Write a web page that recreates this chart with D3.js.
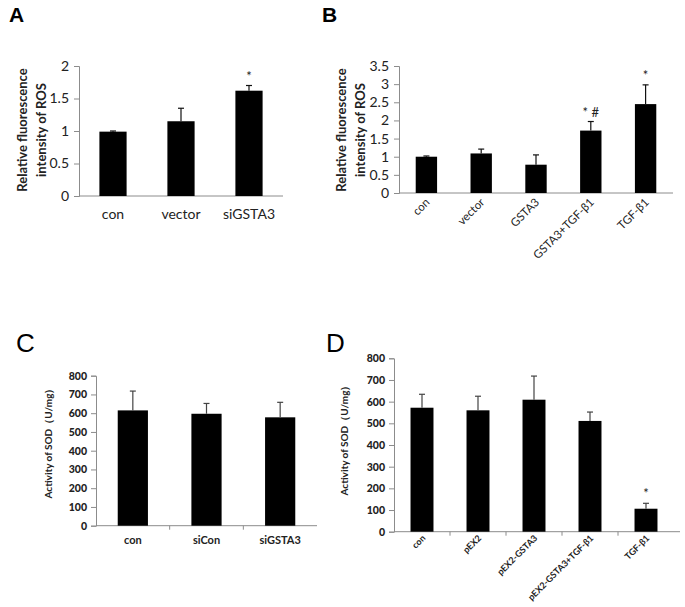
<!DOCTYPE html>
<html><head><meta charset="utf-8">
<script src="https://cdn.jsdelivr.net/npm/d3@7"></script>
<style>body{margin:0;background:#fff}svg{display:block}</style>
</head><body>
<svg id="c" width="685" height="607"></svg>
<script>
// Panel A
const catsA = ["con","vector","siGSTA3"];
const valsA = [0.99, 1.15, 1.62];
const errA  = [0.01, 0.20, 0.08];
const ticksA = [0,0.5,1,1.5,2];
const sigA = ["","","*"];
// Panel B
const catsB = ["con","vector","GSTA3","GSTA3+TGF-β1","TGF-β1"];
const valsB = [1.0, 1.09, 0.78, 1.72, 2.45];
const errB  = [0.02, 0.12, 0.27, 0.25, 0.53];
const ticksB = [0,0.5,1,1.5,2,2.5,3,3.5];
const sigB = ["","","","* #","*"];
// Panel C
const catsC = ["con","siCon","siGSTA3"];
const valsC = [615, 597, 578];
const errC  = [103, 55, 80];
const ticksC = [0,100,200,300,400,500,600,700,800];
// Panel D
const catsD = ["con","pEX2","pEX2-GSTA3","pEX2-GSTA3+TGF-β1","TGF-β1"];
const valsD = [572, 560, 609, 511, 106];
const errD  = [62, 65, 109, 41, 25];
const ticksD = [0,100,200,300,400,500,600,700,800];
const sigD = ["","","","","*"];

const svg = d3.select("#c");
const FONT = "Lato, 'Open Sans', sans-serif";
const AX = "#8c8c8c";

function panel(o){
  const g = svg.append("g");
  const x = d3.scaleBand().domain(o.cats).range(o.xr).padding(0);
  const y = d3.scaleLinear().domain([0, o.ymax]).range(o.yr);
  const bw = x.bandwidth()*o.bar;
  // y axis
  const ya = d3.axisLeft(y).tickValues(o.ticks).tickSize(5).tickPadding(o.tpad).tickFormat(d=>String(d));
  const yg = g.append("g").attr("transform",`translate(${o.xr[0]},0)`).call(ya);
  yg.select(".domain").attr("stroke",AX);
  yg.selectAll(".tick line").attr("stroke",AX);
  yg.selectAll("text").attr("font-family",FONT).attr("font-size",o.tfs).attr("font-weight",o.bold?"900":"normal").attr("fill","#222");
  // x axis
  g.append("line").attr("x1",o.xr[0]).attr("x2",o.xr[1]+o.xext).attr("y1",y(0)).attr("y2",y(0)).attr("stroke",AX);
  if(o.xticks){
    o.cats.forEach((c,i)=>{ if(i>0) g.append("line").attr("x1",x(c)).attr("x2",x(c)).attr("y1",y(0)).attr("y2",y(0)+4).attr("stroke",AX);});
  }
  // bars
  g.selectAll("rect.b").data(o.vals).join("rect")
    .attr("x",(d,i)=>x(o.cats[i])+x.bandwidth()/2-bw/2).attr("width",bw)
    .attr("y",d=>y(d)).attr("height",d=>y(0)-y(d)).attr("fill","#000");
  // error bars
  o.vals.forEach((v,i)=>{
    const cx = x(o.cats[i])+x.bandwidth()/2;
    const top = y(v+o.err[i]);
    g.append("line").attr("x1",cx).attr("x2",cx).attr("y1",y(v)).attr("y2",top).attr("stroke",o.ec).attr("stroke-width",1.2);
    g.append("line").attr("x1",cx-3).attr("x2",cx+3).attr("y1",top).attr("y2",top).attr("stroke",o.ec).attr("stroke-width",1.2);
    if(o.sig && o.sig[i]){
      g.append("text").attr("x",cx).attr("y",top-5).attr("text-anchor","middle")
        .attr("font-family",FONT).attr("font-size",o.sfs).attr("fill","#222").text(o.sig[i]);
    }
  });
  // category labels
  o.cats.forEach((c,i)=>{
    const cx = x(c)+x.bandwidth()/2;
    if(o.rot){
      g.append("text").attr("transform",`translate(${cx+4},${y(0)+o.ly}) rotate(-45)`)
        .attr("text-anchor","end").attr("font-family",FONT).attr("font-size",o.cfs)
        .attr("font-weight",o.bold?"bold":"normal").attr("fill","#222").text(c);
    } else {
      g.append("text").attr("x",cx).attr("y",y(0)+o.ly).attr("text-anchor","middle")
        .attr("font-family",FONT).attr("font-size",o.cfs)
        .attr("font-weight",o.bold?"bold":"normal").attr("fill","#222").text(c);
    }
  });
  // y label
  o.ylab.forEach((t,k)=>{
    g.append("text").attr("transform",`translate(${o.ylx[k]},${o.yly}) rotate(-90)`)
      .attr("text-anchor","middle").attr("font-family",FONT).attr("font-size",o.yfs)
      .attr("font-weight","bold").attr("fill","#222").text(t);
  });
  // panel letter
  svg.append("text").attr("x",o.lx).attr("y",o.lyy).attr("font-family","'Liberation Sans', Arial, sans-serif")
    .attr("font-size",o.lfs).attr("font-weight",o.lbold?"bold":"normal").attr("fill","#000").text(o.letter);
}

panel({cats:catsA, vals:valsA, err:errA, ticks:ticksA, ymax:2, sig:sigA, ec:"#111",
  xr:[79,283], yr:[196,66], bar:0.4, xext:0, xticks:false, tfs:14, tpad:5, bold:false,
  rot:false, cfs:14, ly:23, ylab:["Relative fluorescence","intensity of ROS"], ylx:[27,46], yly:130, yfs:13,
  sfs:13, letter:"A", lx:9, lyy:22, lfs:21, lbold:true});

panel({cats:catsB, vals:valsB, err:errB, ticks:ticksB, ymax:3.5, sig:sigB, ec:"#111",
  xr:[399,673], yr:[193,66], bar:0.39, xext:0, xticks:false, tfs:14, tpad:5, bold:false,
  rot:true, cfs:11.5, ly:10, ylab:["Relative fluorescence","intensity of ROS"], ylx:[346,365], yly:130, yfs:13,
  sfs:13, letter:"B", lx:322, lyy:22, lfs:21, lbold:true});

panel({cats:catsC, vals:valsC, err:errC, ticks:ticksC, ymax:800, sig:null, ec:"#444",
  xr:[96,317], yr:[525.7,375.7], bar:0.41, xext:0, xticks:true, tfs:10.5, tpad:4, bold:true,
  rot:false, cfs:11, ly:18, ylab:["Activity of SOD（U/mg）"], ylx:[52], yly:441, yfs:10,
  sfs:13, letter:"C", lx:16, lyy:352, lfs:26, lbold:false});

panel({cats:catsD, vals:valsD, err:errD, ticks:ticksD, ymax:800, sig:sigD, ec:"#444",
  xr:[394,674], yr:[531.7,358.3], bar:0.41, xext:6, xticks:true, tfs:10.5, tpad:4, bold:true,
  rot:true, cfs:9, ly:7, ylab:["Activity of SOD（U/mg）"], ylx:[348], yly:438, yfs:10,
  sfs:13, letter:"D", lx:326, lyy:352, lfs:26, lbold:false});
</script>
</body></html>
